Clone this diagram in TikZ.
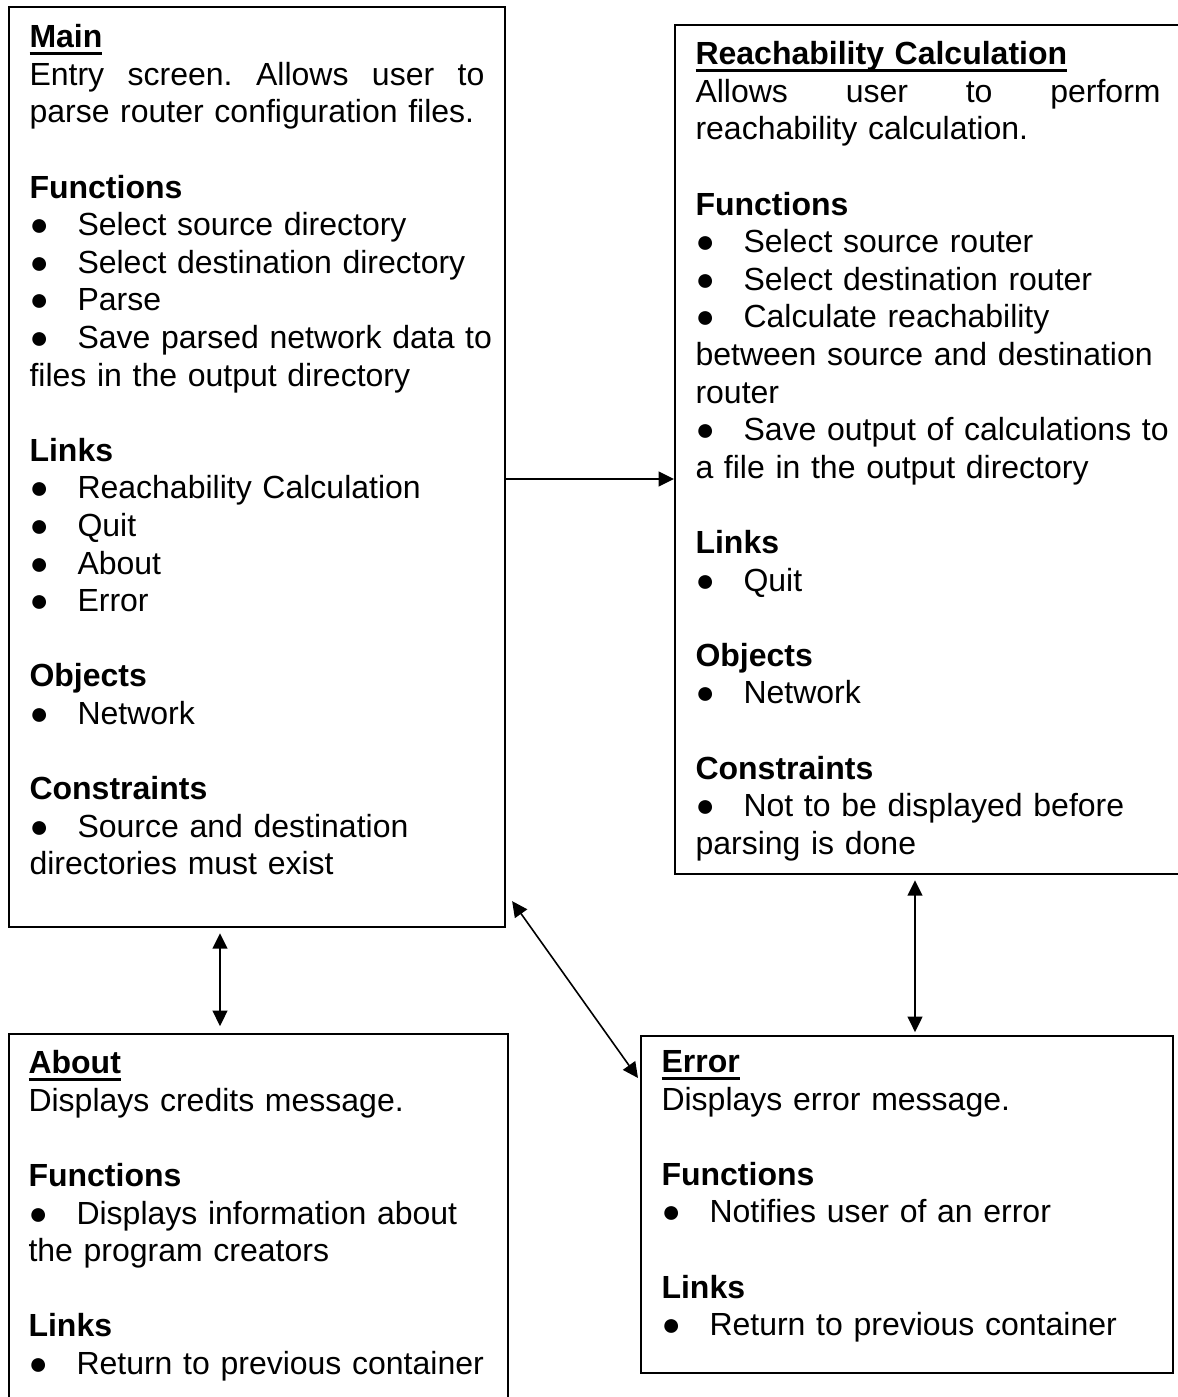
\documentclass[tikz,border=0pt]{standalone}
\usepackage{fontspec}
\setmainfont{Liberation Sans}
\usetikzlibrary{arrows.meta, positioning}
\frenchspacing

% underlined box title, rule at a fixed depth
\newcommand{\ttl}[1]{\setbox0=\hbox{\bfseries #1}\rlap{\rule[-2.8pt]{\wd0}{1.1pt}}\box0}
\newcommand{\hd}[1]{\textbf{#1}}
\newcommand{\bul}{\makebox[18pt][l]{●}}
% justified line: words spread over the given width
\newcommand{\jl}[2]{\leavevmode\hbox to #1{#2}}

\tikzset{
  screen/.style={draw, line width=0.8pt, anchor=north west, inner sep=0pt},
  body/.style={anchor=north west, inner sep=0pt, align=left, text width=190pt,
    font=\fontsize{12pt}{14.1pt}\selectfont},
  link/.style={line width=0.6pt},
}

\begin{document}
\begin{tikzpicture}[x=0.375pt, y=-0.375pt, >={Triangle[length=5.8pt,width=5.6pt]}]
  \useasboundingbox (0,0) rectangle (1177,1397);

  % Boxes
  \node[screen, minimum width=186pt, minimum height=345pt] (main) at (8,6) {};
  \node[screen, minimum width=189.8pt, minimum height=318.4pt] (reach) at (674,24) {};
  \node[screen, minimum width=187.1pt, minimum height=145pt] (about) at (8,1033) {};
  \node[screen, minimum width=199.5pt, minimum height=126.4pt] (error) at (640,1035) {};

  % Main
  \node[body] (mainTxt) at (29,24) {\ttl{Main}\\
    \jl{170.6pt}{Entry\hfill screen.\hfill Allows\hfill user\hfill to}\\
    parse router configuration files.\\[14.1pt]
    \hd{Functions}\\
    \bul Select source directory\\
    \bul Select destination directory\\
    \bul Parse\\
    \bul Save parsed network data to\\
    files in the output directory\\[14.1pt]
    \hd{Links}\\
    \bul Reachability Calculation\\
    \bul Quit\\
    \bul About\\
    \bul Error\\[14.1pt]
    \hd{Objects}\\
    \bul Network\\[14.1pt]
    \hd{Constraints}\\
    \bul Source and destination\\
    directories must exist};

  % Reachability Calculation
  \node[body] (reachTxt) at (695,41) {\ttl{Reachability Calculation}\\
    \jl{174.4pt}{Allows\hfill user\hfill to\hfill perform}\\
    reachability calculation.\\[14.1pt]
    \hd{Functions}\\
    \bul Select source router\\
    \bul Select destination router\\
    \bul Calculate reachability\\
    between source and destination\\
    router\\
    \bul Save output of calculations to\\
    a file in the output directory\\[14.1pt]
    \hd{Links}\\
    \bul Quit\\[14.1pt]
    \hd{Objects}\\
    \bul Network\\[14.1pt]
    \hd{Constraints}\\
    \bul Not to be displayed before\\
    parsing is done};

  % About
  \node[body] (aboutTxt) at (28,1050) {\ttl{About}\\
    Displays credits message.\\[14.1pt]
    \hd{Functions}\\
    \bul Displays information about\\
    the program creators\\[14.1pt]
    \hd{Links}\\
    \bul Return to previous container};

  % Error
  \node[body] (errorTxt) at (661,1050) {\ttl{Error}\\
    Displays error message.\\[14.1pt]
    \hd{Functions}\\
    \bul Notifies user of an error\\[14.1pt]
    \hd{Links}\\
    \bul Return to previous container};

  % Links between screens
  \coordinate (lk) at (590,479);
  \coordinate (ab) at (220,980);
  \coordinate (er) at (915,950);
  \draw[link, ->] (main.east |- lk) -- (reach.west |- lk);
  \draw[link, <->, shorten <=1.9pt, shorten >=2.6pt] (main.south -| ab) -- (about.north -| ab);
  \draw[link, <->, shorten <=1.9pt, shorten >=1.1pt] (reach.south -| er) -- (error.north -| er);
  \draw[link, <->] ([shift={(6,-27)}]main.south east) -- ([shift={(-2,43)}]error.north west);
\end{tikzpicture}
\end{document}
